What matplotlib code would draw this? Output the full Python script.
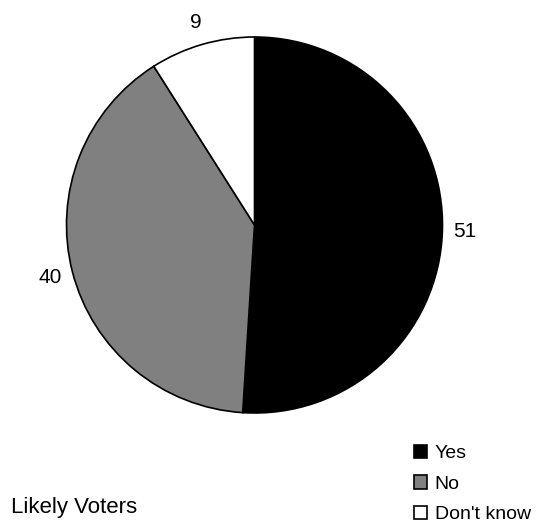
import matplotlib
matplotlib.use("Agg")
import matplotlib.pyplot as plt
from matplotlib.patches import Patch

categories = ["Yes", "No", "Don't know"]
values = [51, 40, 9]
colors = ["#000000", "#808080", "#ffffff"]
subtitle = "Likely Voters"

plt.rcParams['font.family'] = ['Liberation Sans', 'DejaVu Sans']

W, H = 536, 523
fig = plt.figure(figsize=(W/100, H/100), dpi=100)
cx, cy, r = 254.5, 225, 188
ax = fig.add_axes([(cx - r)/W, (H - cy - r)/H, 2*r/W, 2*r/H])
wedges, texts = ax.pie(values, labels=[str(v) for v in values], colors=colors,
                       startangle=90, counterclock=False, labeldistance=1.12,
                       wedgeprops=dict(edgecolor='black', linewidth=1.2),
                       textprops=dict(fontsize=15))
for t in texts:
    t.set_horizontalalignment('center')
ax.set_xlim(-1, 1)
ax.set_ylim(-1, 1)
ax.set_aspect('equal')
ax.axis('off')

handles = [Patch(facecolor=c, edgecolor='black', linewidth=1.2) for c in colors]
fig.legend(handles, categories, loc='upper left', bbox_to_anchor=(414/W, 1 - 445/H),
           frameon=False, fontsize=14, handlelength=0.67, handleheight=0.67,
           handletextpad=0.4, labelspacing=0.66, borderpad=0, borderaxespad=0)

fig.text(11/W, 1 - 508/H, subtitle, fontsize=16, va='center', ha='left')

fig.savefig("out.png", dpi=100)
